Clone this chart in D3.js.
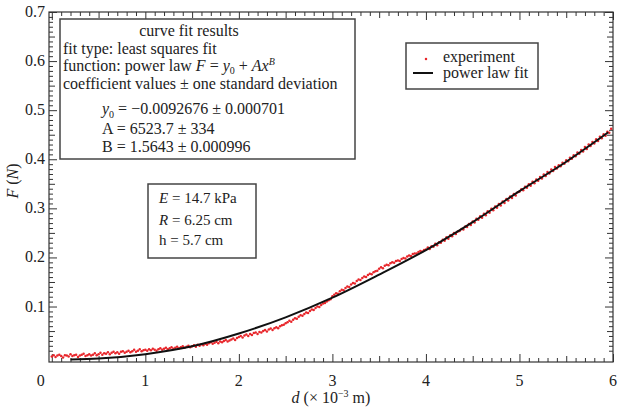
<!DOCTYPE html>
<html>
<head>
<meta charset="utf-8">
<script src="https://cdn.jsdelivr.net/npm/d3@7"></script>
<style>
  body { margin: 0; background: #fff; }
  svg text { font-family: "Liberation Serif", "DejaVu Serif", serif; fill: #222; }
</style>
</head>
<body>
<div id="chart"></div>
<script>
// measured force F (N), sampled every dStep (x 10^-3 m) starting at d = 0
const dStep = 0.02;
const forceMeasured = [
  -0.002, 0.001, -0.003, 0.000, 0.002, -0.001, -0.004, 0.001, 0.000, -0.002, 0.003, -0.001, 0.001, 0.002, -0.003, 0.000, 0.002, 0.004, -0.001, 0.001, 0.003, 0.000, 0.002, 0.005, 0.001,
  0.003, 0.006, 0.002, 0.005, 0.004, 0.007, 0.003, 0.006, 0.008, 0.005, 0.007, 0.004, 0.008, 0.009, 0.006, 0.008, 0.010, 0.007, 0.009, 0.012, 0.008, 0.010, 0.013, 0.009, 0.011,
  0.012, 0.010, 0.013, 0.011, 0.014, 0.012, 0.010, 0.013, 0.015, 0.012, 0.014, 0.016, 0.013, 0.015, 0.017, 0.014, 0.016, 0.018, 0.015, 0.017, 0.019, 0.016, 0.018, 0.020, 0.017,
  0.019, 0.021, 0.018, 0.022, 0.020, 0.023, 0.021, 0.024, 0.022, 0.025, 0.027, 0.024, 0.026, 0.028, 0.025, 0.029, 0.027, 0.030, 0.032, 0.029, 0.031, 0.033, 0.035, 0.032, 0.036,
  0.038, 0.040, 0.037, 0.041, 0.043, 0.040, 0.044, 0.042, 0.046, 0.047, 0.044, 0.048, 0.047, 0.050, 0.052, 0.049, 0.053, 0.055, 0.052, 0.056, 0.058, 0.056, 0.060, 0.062, 0.063,
  0.066, 0.068, 0.071, 0.069, 0.073, 0.076, 0.075, 0.079, 0.082, 0.081, 0.085, 0.088, 0.087, 0.091, 0.094, 0.093, 0.097, 0.100, 0.099, 0.103, 0.106, 0.107, 0.110, 0.113, 0.115,
  0.121, 0.124, 0.127, 0.126, 0.131, 0.134, 0.133, 0.138, 0.141, 0.140, 0.145, 0.148, 0.147, 0.152, 0.155, 0.154, 0.158, 0.161, 0.160, 0.164, 0.167, 0.166, 0.170, 0.172, 0.173,
  0.177, 0.180, 0.178, 0.183, 0.185, 0.184, 0.188, 0.190, 0.189, 0.193, 0.194, 0.193, 0.197, 0.199, 0.198, 0.202, 0.204, 0.203, 0.207, 0.208, 0.208, 0.211, 0.213, 0.212, 0.215,
  0.216, 0.220, 0.217, 0.223, 0.222, 0.228, 0.225, 0.231, 0.230, 0.236, 0.234, 0.241, 0.238, 0.245, 0.243, 0.250, 0.248, 0.253, 0.254, 0.258, 0.257, 0.263, 0.262, 0.268, 0.266,
  0.273, 0.271, 0.279, 0.277, 0.284, 0.281, 0.289, 0.286, 0.294, 0.291, 0.299, 0.296, 0.304, 0.301, 0.309, 0.306, 0.314, 0.311, 0.319, 0.316, 0.324, 0.321, 0.329, 0.326, 0.333,
  0.334, 0.339, 0.337, 0.344, 0.342, 0.349, 0.346, 0.354, 0.351, 0.359, 0.356, 0.364, 0.361, 0.369, 0.366, 0.374, 0.371, 0.379, 0.376, 0.384, 0.381, 0.388, 0.386, 0.393, 0.391,
  0.398, 0.396, 0.403, 0.401, 0.408, 0.406, 0.414, 0.411, 0.419, 0.416, 0.425, 0.421, 0.430, 0.427, 0.435, 0.432, 0.441, 0.437, 0.446, 0.443, 0.451, 0.448, 0.456, 0.454, 0.462
];

// power law fit curve
const fitD = [0.2, 0.5, 1.0, 1.5, 2.0, 2.5, 3.0, 3.5, 4.0, 4.5, 5.0, 5.5, 5.95];
const fitF = [-0.008, -0.006, 0.003, 0.019, 0.045, 0.078, 0.118, 0.165, 0.215, 0.272, 0.335, 0.395, 0.455];

const xTickLabels = ['0', '1', '2', '3', '4', '5', '6'];
const yTickLabels = ['0.1', '0.2', '0.3', '0.4', '0.5', '0.6', '0.7'];

const width = 618;
const height = 411;
const plot = { left: 49, right: 613, top: 12, bottom: 362 };

const svg = d3.select('#chart')
  .append('svg')
  .attr('width', width)
  .attr('height', height);

const x = d3.scaleLinear().domain([-0.03, 6.0]).range([plot.left, plot.right]);
const y = d3.scaleLinear().domain([-0.013, 0.7]).range([plot.bottom, plot.top]);

const xMajor = xTickLabels.map(Number);
const xMid = d3.range(0.5, 6, 1);
const xMinor = d3.range(0, 60).map(i => i / 10).filter(v => Math.round(v * 10) % 5 !== 0);
const yMajor = yTickLabels.map(Number);
const yMid = d3.range(0.05, 0.7, 0.1);
const yMinor = d3.range(0, 70).map(i => i / 100).filter(v => Math.round(v * 100) % 5 !== 0);

function tickStyle(g) {
  g.select('.domain').remove();
  g.selectAll('line').attr('stroke', '#333').attr('stroke-width', 1);
}

// ticks on all four sides, pointing inward
[[xMinor, 4], [xMid, 6], [xMajor, 8]].forEach(([vals, len]) => {
  svg.append('g').attr('transform', `translate(0,${plot.bottom})`)
    .call(d3.axisBottom(x).tickValues(vals).tickSize(-len).tickFormat('')).call(tickStyle);
  svg.append('g').attr('transform', `translate(0,${plot.top})`)
    .call(d3.axisTop(x).tickValues(vals).tickSize(-len).tickFormat('')).call(tickStyle);
});
[[yMinor, 4], [yMid, 6], [yMajor, 8]].forEach(([vals, len]) => {
  svg.append('g').attr('transform', `translate(${plot.left},0)`)
    .call(d3.axisLeft(y).tickValues(vals).tickSize(-len).tickFormat('')).call(tickStyle);
  svg.append('g').attr('transform', `translate(${plot.right},0)`)
    .call(d3.axisRight(y).tickValues(vals).tickSize(-len).tickFormat('')).call(tickStyle);
});

// tick labels
svg.append('g').selectAll('text')
  .data(xTickLabels)
  .join('text')
  .attr('x', (d, i) => x(+d) - (i === 0 ? 11 : 0))
  .attr('y', plot.bottom + 24)
  .attr('text-anchor', 'middle')
  .attr('font-size', 16)
  .text(d => d);

svg.append('g').selectAll('text')
  .data(yTickLabels)
  .join('text')
  .attr('x', plot.left - 4)
  .attr('y', d => y(+d) + 5)
  .attr('text-anchor', 'end')
  .attr('font-size', 16)
  .text(d => d);

// frame
svg.append('rect')
  .attr('x', plot.left).attr('y', plot.top)
  .attr('width', plot.right - plot.left).attr('height', plot.bottom - plot.top)
  .attr('fill', 'none').attr('stroke', '#333').attr('stroke-width', 1.2);

// axis titles
const xTitle = svg.append('text')
  .attr('x', 331).attr('y', 403)
  .attr('text-anchor', 'middle')
  .attr('font-size', 16);
xTitle.append('tspan').attr('font-style', 'italic').text('d');
xTitle.append('tspan').text(' (× 10');
xTitle.append('tspan').attr('font-size', 10).attr('dy', -6).text('−3');
xTitle.append('tspan').attr('dy', 6).text(' m)');

const yTitle = svg.append('text')
  .attr('transform', 'translate(18,181) rotate(-90)')
  .attr('text-anchor', 'middle')
  .attr('font-size', 16);
yTitle.append('tspan').attr('font-style', 'italic').text('F');
yTitle.append('tspan').text(' (');
yTitle.append('tspan').attr('font-style', 'italic').text('N');
yTitle.append('tspan').text(')');

// experiment points
svg.append('g')
  .selectAll('circle')
  .data(forceMeasured)
  .join('circle')
  .attr('cx', (d, i) => x(i * dStep))
  .attr('cy', d => y(d))
  .attr('r', 1.25)
  .attr('fill', '#e8262b');

// fit line
const fitLine = d3.line()
  .x(d => x(d[0]))
  .y(d => y(d[1]))
  .curve(d3.curveMonotoneX);

svg.append('path')
  .datum(fitD.map((d, i) => [d, fitF[i]]))
  .attr('d', fitLine)
  .attr('fill', 'none')
  .attr('stroke', '#111')
  .attr('stroke-width', 2);

// curve fit results box
svg.append('rect')
  .attr('x', 60).attr('y', 19).attr('width', 295).attr('height', 140)
  .attr('fill', '#fff').attr('stroke', '#444').attr('stroke-width', 1.5);

const fs = 16;
svg.append('text').attr('x', 189).attr('y', 36).attr('text-anchor', 'middle')
  .attr('font-size', fs).text('curve fit results');
svg.append('text').attr('x', 63).attr('y', 54).attr('font-size', fs)
  .text('fit type: least squares fit');

const fn = svg.append('text').attr('x', 63).attr('y', 71).attr('font-size', fs);
fn.append('tspan').text('function: power law ');
fn.append('tspan').attr('font-style', 'italic').text('F');
fn.append('tspan').text(' = ');
fn.append('tspan').attr('font-style', 'italic').text('y');
fn.append('tspan').attr('font-size', 10).attr('dy', 3).text('0');
fn.append('tspan').attr('dy', -3).text(' + ');
fn.append('tspan').attr('font-style', 'italic').text('Ax');
fn.append('tspan').attr('font-style', 'italic').attr('font-size', 10).attr('dy', -6).text('B');

svg.append('text').attr('x', 63).attr('y', 89).attr('font-size', fs)
  .text('coefficient values ± one standard deviation');

const y0 = svg.append('text').attr('x', 102).attr('y', 114).attr('font-size', fs);
y0.append('tspan').attr('font-style', 'italic').text('y');
y0.append('tspan').attr('font-size', 10).attr('dy', 4).text('0');
y0.append('tspan').attr('dy', -4).text(' = −0.0092676 ± 0.000701');

svg.append('text').attr('x', 102).attr('y', 134).attr('font-size', fs)
  .text('A = 6523.7 ± 334');
svg.append('text').attr('x', 102).attr('y', 152).attr('font-size', fs)
  .text('B = 1.5643 ± 0.000996');

// parameter box
svg.append('rect')
  .attr('x', 148).attr('y', 184).attr('width', 108).attr('height', 74)
  .attr('fill', '#fff').attr('stroke', '#444').attr('stroke-width', 1.5);

const pfs = 15;
const eText = svg.append('text').attr('x', 159).attr('y', 203).attr('font-size', pfs);
eText.append('tspan').attr('font-style', 'italic').text('E');
eText.append('tspan').text(' = 14.7 kPa');
const rText = svg.append('text').attr('x', 159).attr('y', 225).attr('font-size', pfs);
rText.append('tspan').attr('font-style', 'italic').text('R');
rText.append('tspan').text(' = 6.25 cm');
svg.append('text').attr('x', 159).attr('y', 245).attr('font-size', pfs).text('h = 5.7 cm');

// legend
svg.append('rect')
  .attr('x', 406).attr('y', 43).attr('width', 132).attr('height', 46)
  .attr('fill', '#fff').attr('stroke', '#444').attr('stroke-width', 1.5);
svg.append('circle').attr('cx', 426).attr('cy', 59).attr('r', 1.25).attr('fill', '#e8262b');
svg.append('line').attr('x1', 413).attr('x2', 433).attr('y1', 73).attr('y2', 73)
  .attr('stroke', '#111').attr('stroke-width', 2);
svg.append('text').attr('x', 443).attr('y', 62).attr('font-size', fs).text('experiment');
svg.append('text').attr('x', 443).attr('y', 78).attr('font-size', fs).text('power law fit');
</script>
</body>
</html>
